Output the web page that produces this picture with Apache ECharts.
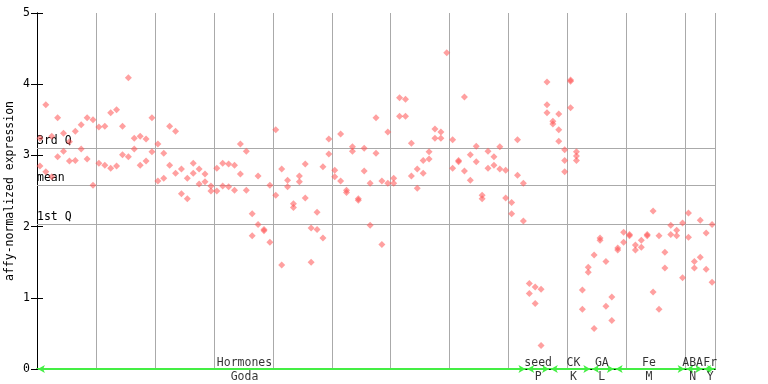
<!DOCTYPE html>
<html>
<head>
<meta charset="utf-8">
<script src="https://cdn.jsdelivr.net/npm/echarts@6/dist/echarts.min.js"></script>
<style>
html,body{margin:0;padding:0;background:#fff;}
#chart{width:768px;height:384px;}
</style>
</head>
<body>
<div id="chart"></div>
<script>
// ---- data (column index = sample position along x) ----
const rep1 = [3.24,3.71,3.27,3.53,3.31,3.19,3.34,3.43,3.53,3.50,
  3.40,3.41,3.60,3.64,3.41,4.09,3.24,3.27,3.23,3.53,
  3.16,3.03,3.41,3.34,2.81,2.68,2.89,2.81,2.74,2.57,
  2.82,2.89,2.88,2.86,3.16,3.06,2.18,2.71,1.96,2.58,
  3.36,2.81,2.65,2.32,2.71,2.88,1.98,2.20,2.84,3.23,
  2.79,3.30,2.51,3.12,2.39,3.10,2.61,3.53,2.64,3.33,
  2.68,3.81,3.79,3.17,2.81,2.93,3.05,3.37,3.33,4.44,
  3.22,2.93,3.82,3.01,3.13,2.44,3.06,2.98,3.12,2.79,
  2.34,3.22,2.61,1.20,1.15,1.12,4.03,3.48,3.58,3.08,
  4.06,3.05,1.11,1.43,1.60,1.84,1.51,1.01,1.70,1.92,
  1.89,1.74,1.81,1.89,2.22,1.87,1.64,2.02,1.95,2.05,
  2.19,1.51,2.09,1.91,2.03];
const rep2 = [2.85,2.77,2.70,2.98,3.06,2.92,2.93,3.09,2.95,2.58,
  2.89,2.86,2.82,2.85,3.01,2.98,3.09,2.86,2.92,3.05,
  2.64,2.68,2.86,2.75,2.46,2.39,2.75,2.60,2.63,2.50,
  2.50,2.57,2.56,2.51,2.74,2.51,1.87,2.03,1.94,1.78,
  2.44,1.46,2.56,2.27,2.63,2.40,1.50,1.96,1.84,3.02,
  2.70,2.64,2.48,3.06,2.37,2.78,2.02,3.03,1.75,2.61,
  2.61,3.55,3.55,2.71,2.54,2.75,2.95,3.24,3.24,null,
  2.82,2.91,2.78,2.65,2.91,2.39,2.82,2.86,2.81,2.40,
  2.18,2.72,2.08,1.06,0.92,0.33,3.71,3.44,3.36,2.93,
  4.04,2.99,0.84,1.36,0.57,1.81,0.88,0.68,1.67,1.78,
  1.87,1.67,1.71,1.87,1.08,0.84,1.42,1.89,1.87,1.28,
  1.85,1.42,1.57,1.40,1.22];
const rep3Cols = [86,88,89,90,91];
const rep3Vals = [3.60,3.20,2.77,3.67,2.93];

const statNames = ['3rd Q','mean','1st Q'];
const statValues = [3.10,2.585,2.035];

const groupNames = ['Hormones','seed','CK','GA','Fe','ABA','Fr'];
const groupCodes = ['Goda','P','K','L','M','N','Y'];
const groupStart = [0,83,87,94,98,110,113];
const groupEnd   = [83,87,94,98,110,113,115];
const groupLabelAt = [35.2,85,91,95.8,103.8,111.2,114.2];

const yTicks = [0,1,2,3,4,5];
const nCols = rep1.length;

// ---- build ----
const pts = [];
rep1.forEach((v,i)=>{ if(v!=null) pts.push([i+0.5,v]); });
rep2.forEach((v,i)=>{ if(v!=null) pts.push([i+0.5,v]); });
rep3Cols.forEach((c,k)=>pts.push([c+0.5,rep3Vals[k]]));

const FONT = 'DejaVu Sans Mono';
const txt = {fontFamily:FONT,fontSize:11.5,color:'#000'};

const chart = echarts.init(document.getElementById('chart'),null,{renderer:'canvas'});
chart.setOption({
  animation:false,
  backgroundColor:'#fff',
  grid:{left:37,right:53,top:13,bottom:15,containLabel:false,outerBoundsMode:'none'},
  xAxis:[
    {type:'value',min:0,max:nCols,interval:10,position:'bottom',
     axisLine:{show:true,onZero:false,lineStyle:{color:'#44ee44',width:2}},
     axisTick:{show:false},axisLabel:{show:false},
     splitLine:{show:true,lineStyle:{color:'#aaaaaa',width:1}}},
    {type:'value',min:0,max:nCols,position:'top',
     axisLine:{show:true,lineStyle:{color:'#000',width:1}},
     axisTick:{show:false},axisLabel:{show:false},splitLine:{show:false}}
  ],
  yAxis:[
    {type:'value',min:yTicks[0],max:yTicks[yTicks.length-1],interval:1,position:'left',
     name:'affy-normalized expression',nameLocation:'middle',nameGap:21,nameRotate:90,
     nameMoveOverlap:false,
     nameTextStyle:txt,
     axisLine:{show:true,lineStyle:{color:'#000'}},
     axisTick:{show:true,inside:true,length:6,lineStyle:{color:'#000'}},
     axisLabel:Object.assign({margin:7},txt),
     splitLine:{show:false}},
    {type:'value',min:yTicks[0],max:yTicks[yTicks.length-1],interval:1,position:'right',
     axisLine:{show:true,lineStyle:{color:'#000'}},
     axisTick:{show:true,inside:true,length:6,lineStyle:{color:'#000'}},
     axisLabel:{show:false},splitLine:{show:false}}
  ],
  series:[
    {type:'scatter',name:'stats',data:[],
     markLine:{silent:true,symbol:'none',animation:false,
       lineStyle:{color:'#aaaaaa',width:1,type:'solid'},
       label:Object.assign({position:'insideStartTop',distance:[0,1],padding:0,formatter:p=>p.name},txt),
       data:statNames.map((n,k)=>({name:n,yAxis:statValues[k]}))}},
    {type:'scatter',name:'groups',data:[],
     markLine:{silent:true,animation:false,symbol:['arrow','arrow'],symbolSize:[6,7],
       lineStyle:{color:'#44ee44',width:2,type:'solid'},
       label:{show:false},
       data:groupNames.map((n,k)=>[{coord:[groupStart[k]+0.15,0]},{coord:[groupEnd[k]-0.15,0]}])}},
    {type:'scatter',name:'expr',data:pts,symbol:'diamond',symbolSize:7,
     itemStyle:{color:'rgba(255,85,85,0.7)'},z:5},
    {type:'scatter',name:'groupTop',symbolSize:0,silent:true,
     data:groupNames.map((n,k)=>({name:n,value:[groupLabelAt[k],0]})),
     label:Object.assign({show:true,position:'top',distance:0,formatter:p=>p.name},txt),z:6},
    {type:'scatter',name:'groupBottom',symbolSize:0,silent:true,
     data:groupCodes.map((n,k)=>({name:n,value:[groupLabelAt[k],0]})),
     label:Object.assign({show:true,position:'bottom',distance:2,formatter:p=>p.name},txt),z:6}
  ]
});
</script>
</body>
</html>
